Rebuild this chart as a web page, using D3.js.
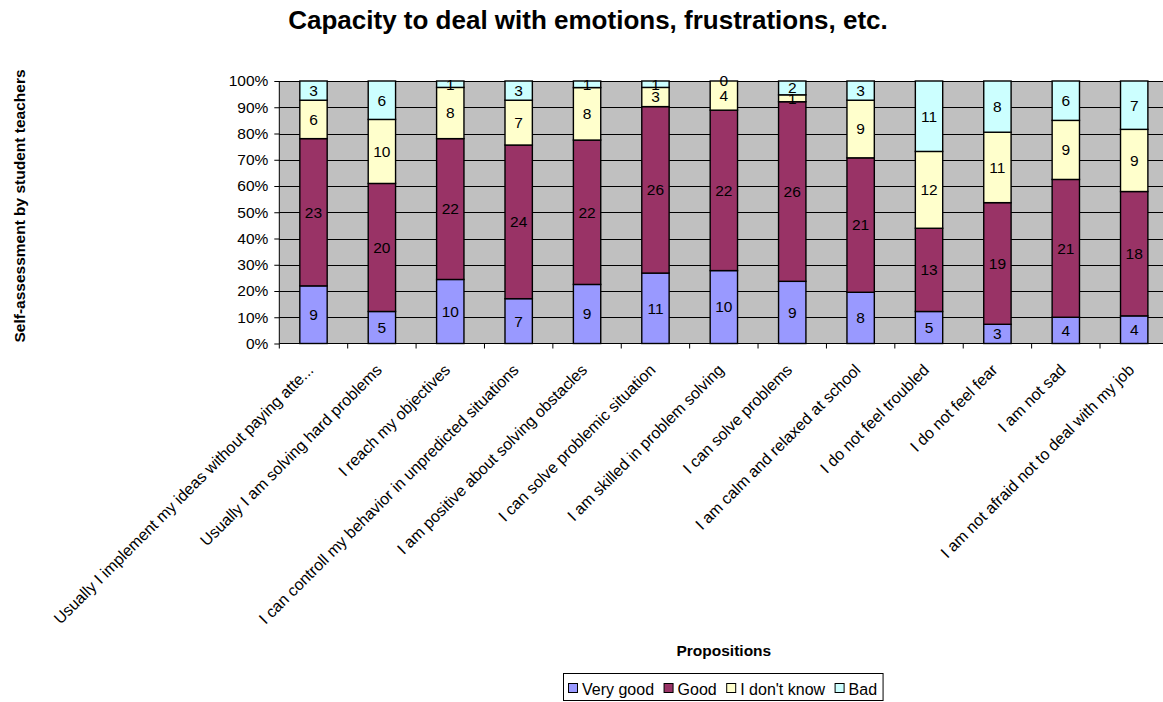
<!DOCTYPE html>
<html>
<head>
<meta charset="utf-8">
<script src="https://cdn.jsdelivr.net/npm/d3@7"></script>
<style>
  html, body { margin: 0; padding: 0; background: #fff; }
  svg { display: block; font-family: "Liberation Sans", Arial, sans-serif; }
</style>
</head>
<body>
<svg id="chart" width="1163" height="702"></svg>
<script>
const categories = [
  "Usually I implement my ideas without paying atte...",
  "Usually I am solving hard problems",
  "I reach my objectives",
  "I can controll my behavior in unpredicted situations",
  "I am positive about solving obstacles",
  "I can solve problemic situation",
  "I am skilled in problem solving",
  "I can solve problems",
  "I am calm and relaxed at school",
  "I do not feel troubled",
  "I do not feel fear",
  "I am not sad",
  "I am not afraid not to deal with my job"
];
const seriesNames = ["Very good", "Good", "I don't know", "Bad"];
const veryGood  = [9, 5, 10, 7, 9, 11, 10, 9, 8, 5, 3, 4, 4];
const good      = [23, 20, 22, 24, 22, 26, 22, 26, 21, 13, 19, 21, 18];
const dontKnow  = [6, 10, 8, 7, 8, 3, 4, 1, 9, 12, 11, 9, 9];
const bad       = [3, 6, 1, 3, 1, 1, 0, 2, 3, 11, 8, 6, 7];
const seriesColors = ["#9999FF", "#993366", "#FFFFCC", "#CCFFFF"];
const yTicks = [0, 0.1, 0.2, 0.3, 0.4, 0.5, 0.6, 0.7, 0.8, 0.9, 1.0];
const chartTitle = "Capacity to deal with emotions, frustrations, etc.";
const yTitle = "Self-assessment by student teachers";
const xTitle = "Propositions";

const seriesValues = [veryGood, good, dontKnow, bad];
const rows = categories.map((c, i) => {
  const r = { cat: c };
  seriesNames.forEach((s, k) => r[s] = seriesValues[k][i]);
  return r;
});
const stacked = d3.stack().keys(seriesNames).offset(d3.stackOffsetExpand)(rows);

const svg = d3.select("#chart");
const pLeft = 279.3, pRight = 1168.4, pTop = 81, pBottom = 343.5;

const x = d3.scaleBand().domain(categories).range([pLeft, pRight])
  .paddingInner(0.6).paddingOuter(0.3);
const y = d3.scaleLinear().domain([0, 1]).range([pBottom, pTop]);
const step = x.step();

// plot background
svg.append("rect").attr("x", pLeft).attr("y", pTop)
  .attr("width", pRight - pLeft).attr("height", pBottom - pTop)
  .attr("fill", "#C0C0C0");

// gridlines
svg.append("g").selectAll("line").data(yTicks.slice(1)).join("line")
  .attr("x1", pLeft).attr("x2", pRight)
  .attr("y1", d => Math.round(y(d)) + 0.5).attr("y2", d => Math.round(y(d)) + 0.5)
  .attr("stroke", "#000").attr("stroke-width", 1);

// bars
const layer = svg.append("g").selectAll("g").data(stacked).join("g")
  .attr("fill", (d, i) => seriesColors[i]);
layer.selectAll("rect").data(d => d).join("rect")
  .attr("x", d => x(d.data.cat))
  .attr("width", x.bandwidth())
  .attr("y", d => y(d[1]))
  .attr("height", d => y(d[0]) - y(d[1]))
  .attr("stroke", "#000").attr("stroke-width", 1.4);

// data labels
const lab = svg.append("g").attr("font-size", "15.5px").attr("text-anchor", "middle").attr("fill", "#000");
stacked.forEach((s, k) => {
  lab.selectAll(null).data(s).join("text")
    .attr("x", d => x(d.data.cat) + x.bandwidth() / 2)
    .attr("y", d => (y(d[0]) + y(d[1])) / 2)
    .attr("dy", "0.35em")
    .text((d, i) => seriesValues[k][i]);
});

// y axis
const yAxis = d3.axisLeft(y).tickValues(yTicks).tickFormat(d3.format(".0%")).tickSize(5).tickPadding(6);
const gy = svg.append("g").attr("transform", `translate(${pLeft},0)`).call(yAxis);
gy.select(".domain").attr("stroke", "#000").attr("d", `M0,${pBottom}V${pTop}`);
gy.selectAll(".tick line").attr("stroke", "#000");
gy.selectAll(".tick text").attr("font-size", "15.5px").attr("fill", "#000")
  .attr("font-family", "'Liberation Sans', Arial, sans-serif");

// x axis line and ticks at band boundaries
svg.append("line").attr("x1", pLeft).attr("x2", pRight)
  .attr("y1", pBottom).attr("y2", pBottom).attr("stroke", "#000").attr("stroke-width", 1.2);
const bounds = d3.range(categories.length + 1).map(i => pLeft + i * step);
svg.append("g").selectAll("line").data(bounds).join("line")
  .attr("x1", d => d).attr("x2", d => d)
  .attr("y1", pBottom).attr("y2", pBottom + 5)
  .attr("stroke", "#000");

// x category labels
svg.append("g").selectAll("text").data(categories).join("text")
  .attr("transform", d => `translate(${x(d) + x.bandwidth() / 2 + 1},${371}) rotate(-45)`)
  .attr("text-anchor", "end")
  .attr("font-size", "16px").attr("fill", "#000")
  .text(d => d);

// title
svg.append("text").attr("x", 588).attr("y", 29).attr("text-anchor", "middle")
  .attr("font-size", "26px").attr("font-weight", "bold").text(chartTitle);

// axis titles
svg.append("text").attr("transform", `translate(25,206) rotate(-90)`)
  .attr("text-anchor", "middle").attr("font-size", "15.5px").attr("font-weight", "bold").text(yTitle);
svg.append("text").attr("x", (pLeft + pRight) / 2).attr("y", 656)
  .attr("text-anchor", "middle").attr("font-size", "15.5px").attr("font-weight", "bold").text(xTitle);

// legend
const lg = svg.append("g");
const lgBox = lg.append("rect").attr("x", 563.5).attr("y", 673.5).attr("height", 27)
  .attr("fill", "#fff").attr("stroke", "#000");
let cx = 568.5;
seriesNames.forEach((s, k) => {
  lg.append("rect").attr("x", cx).attr("y", 683.5).attr("width", 9).attr("height", 9)
    .attr("fill", seriesColors[k]).attr("stroke", "#000");
  const t = lg.append("text").attr("x", cx + 13.5).attr("y", 695).attr("font-size", "16px").text(s);
  cx = cx + 13.5 + t.node().getComputedTextLength() + 10;
});
lgBox.attr("width", cx - 10 + 6 - 563.5);
</script>
</body>
</html>
